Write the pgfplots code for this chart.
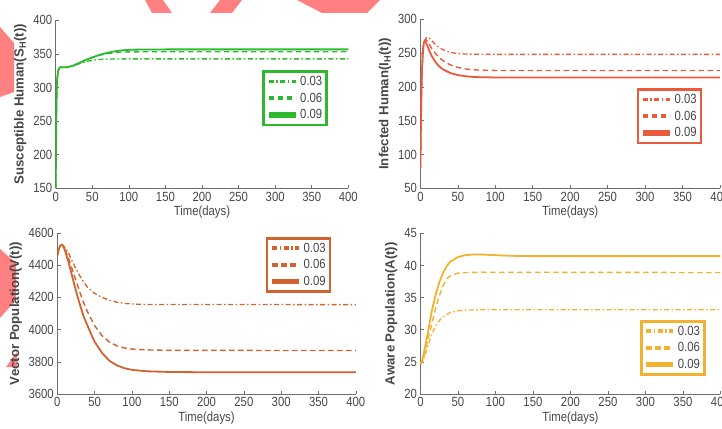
\documentclass[border=0pt]{standalone}
\usepackage{pgfplots}
\pgfplotsset{compat=1.18}
\usepackage{fontspec}
\setmainfont{Liberation Sans}[FakeStretch=0.85]
\newfontfamily\labfont{Liberation Sans}
\definecolor{cG}{RGB}{46,184,46}
\definecolor{cR}{RGB}{234,90,60}
\definecolor{cB}{RGB}{208,99,46}
\definecolor{cY}{RGB}{242,178,48}
\definecolor{pinkw}{RGB}{255,128,128}
\definecolor{axgray}{RGB}{110,110,110}
\definecolor{txt}{RGB}{70,70,70}
\pgfplotsset{
 myax/.style={
  scale only axis,
  axis lines=left,
  axis line style={-, draw=axgray, line width=0.8pt},
  tick align=inside,
  major tick length=3.5pt,
  tick style={draw=axgray, line width=0.6pt},
  xmin=0, xmax=400, xtick={0,50,...,400},
  tick label style={font=\fontsize{13.3}{14}\selectfont, text=txt},
  /pgf/number format/assume math mode=true,
  /pgf/number format/1000 sep={},
  xlabel={Time(days)},
  xlabel style={font=\fontsize{13.3}{14}\selectfont, text=txt, at={(axis description cs:0.5,0)}, anchor=center, yshift=-24pt},
  ylabel style={font=\labfont\bfseries\fontsize{13.2}{14}\selectfont, text=txt},
  legend cell align=left,
  legend image code/.code={\draw[##1, line width=1.7*\pgflinewidth] (0pt,0pt) -- (27pt,0pt);},
 },
 lg/.style={legend style={at={#1}, anchor=north west, fill=white, line width=2.5pt, font=\fontsize{13.3}{14}\selectfont, text=txt, inner sep=2.5pt, row sep=2pt}},
 s03/.style={line width=1.3pt, dash pattern=on 5pt off 2.5pt on 1.5pt off 2.5pt},
 s06/.style={line width=1.4pt, dash pattern=on 5.5pt off 3.5pt},
 s09/.style={line width=1.8pt},
}
\begin{document}
\begin{tikzpicture}
\path[use as bounding box] (0pt,0pt) rectangle (722pt,-428pt);
\clip (0pt,0pt) rectangle (722pt,-428pt);
% background watermark shapes
\fill[pinkw] (145pt,0pt) -- (163pt,0pt) -- (172pt,-13pt) -- (152pt,-13pt) -- cycle;
\fill[pinkw] (220pt,0pt) -- (242pt,0pt) -- (232pt,-13pt) -- (210pt,-13pt) -- cycle;
\fill[pinkw] (297pt,0pt) -- (380pt,0pt) -- (367pt,-13pt) -- (322pt,-13pt) -- cycle;
\fill[pinkw] (361pt,0pt) -- (378pt,0pt) -- (366pt,-13pt) -- (361pt,-13pt) -- cycle;
\fill[pinkw] (0pt,-27pt) -- (14pt,-43pt) -- (14pt,-92pt) -- (0pt,-97pt) -- cycle;
\fill[pinkw] (0pt,-249pt) -- (16pt,-263pt) -- (16pt,-300pt) -- (0pt,-318pt) -- cycle;
\fill[pinkw] (6pt,-367pt) -- (17pt,-352pt) -- (17pt,-367pt) -- cycle;

% Top-left: Susceptible human
\begin{axis}[myax, at={(55.7pt,-188.3pt)}, anchor=south west, width=292.6pt, height=168pt,
  ymin=150, ymax=400, ytick={150,200,...,400},
  ylabel={Susceptible Human(S\textsubscript{H}(t))},
  lg={(rel axis cs:0.706,0.702)}, legend style={draw=cG}]
\addplot[cG, s03] coordinates {(0,150)(0.5,225)(1,272)(1.5,298)(2,312)(3,322)(4,327)(5,329)(7,330.5)(10,330)(15,330)(20,331)(25,332.5)(30,334.5)(35,336.5)(40,338.3)(50,340.5)(60,341.7)(70,342.2)(80,342.5)(100,342.6)(400,342.6)};
\addlegendentry{0.03}
\addplot[cG, s06] coordinates {(0,150)(0.5,225)(1,272)(1.5,298)(2,312)(3,322)(4,327)(5,329)(7,330.5)(10,330)(15,330)(20,331)(25,333)(30,335.5)(35,338)(40,340.5)(50,344.5)(60,348)(70,350.3)(80,351.8)(90,352.6)(100,353)(120,353.2)(400,353.2)};
\addlegendentry{0.06}
\addplot[cG, s09] coordinates {(0,150)(0.5,225)(1,272)(1.5,298)(2,312)(3,322)(4,327)(5,329)(7,330.5)(10,330)(15,330)(20,331.5)(25,333)(30,335.5)(35,338)(40,340.5)(50,344.8)(60,348.5)(70,351.5)(80,353.7)(90,355.2)(100,356.1)(120,356.6)(150,356.7)(200,356.7)(300,356.7)(400,356.7)};
\addlegendentry{0.09}
\end{axis}

% Top-right: Infected human
\begin{axis}[myax, at={(420.4pt,-188.3pt)}, anchor=south west, width=299.5pt, height=169pt,
  ymin=50, ymax=300, ytick={50,100,...,300},
  ylabel={Infected Human(I\textsubscript{H}(t))},
  lg={(rel axis cs:0.722,0.592)}, legend style={draw=cR}]
\addplot[cR, s03] coordinates {(0,80)(0.5,125)(1,163)(1.5,193)(2,214)(3,240)(4,255)(5,264)(6,269)(8,273)(10,273.5)(12,272)(15,268.5)(20,263)(25,258.5)(30,255)(40,251)(50,249.3)(60,248.6)(80,248.2)(100,248.1)(400,248.1)};
\addlegendentry{0.03}
\addplot[cR, s06] coordinates {(0,80)(0.5,128)(1,168)(1.5,198)(2,220)(3,246)(4,260)(5,266)(6,269)(7,270)(8,269.5)(10,267)(12,263)(15,257)(20,249.5)(25,243.5)(30,239)(40,232.5)(50,228.8)(60,226.6)(70,225.4)(80,224.8)(100,224.3)(150,224.2)(400,224.2)};
\addlegendentry{0.06}
\addplot[cR, s09] coordinates {(0,80)(0.5,130)(1,170)(1.5,200)(2,222)(3,248)(4,262)(5,267)(6,268)(7,267)(8,264.5)(10,259)(12,253)(15,246)(20,237)(25,230.5)(30,226)(40,220.5)(50,217.5)(60,215.8)(70,214.8)(80,214.3)(100,214)(150,213.8)(400,213.8)};
\addlegendentry{0.09}
\end{axis}

% Bottom-left: Vector population
\begin{axis}[myax, at={(57.3pt,-394pt)}, anchor=south west, width=298.5pt, height=161pt,
  ymin=3600, ymax=4600, ytick={3600,3800,...,4600},
  ylabel={Vector Population(V(t))},
  lg={(rel axis cs:0.698,0.975)}, legend style={draw=cB}]
\addplot[cB, s03] coordinates {(0,4460)(2,4500)(4,4522)(6,4526)(8,4522)(10,4512)(15,4475)(20,4425)(25,4378)(30,4335)(35,4298)(40,4265)(50,4225)(60,4200)(70,4182)(80,4170)(90,4163)(100,4159)(120,4156)(400,4155)};
\addlegendentry{0.03}
\addplot[cB, s06] coordinates {(0,4460)(2,4500)(4,4522)(6,4526)(8,4520)(10,4502)(15,4445)(20,4375)(25,4305)(30,4235)(35,4170)(40,4115)(50,4025)(60,3962)(70,3922)(80,3899)(90,3886)(100,3879)(120,3874)(150,3871)(400,3870)};
\addlegendentry{0.06}
\addplot[cB, s09] coordinates {(0,4460)(2,4500)(4,4522)(6,4527)(8,4518)(10,4495)(15,4420)(20,4330)(25,4240)(30,4160)(35,4085)(40,4030)(45,3975)(50,3925)(60,3855)(70,3805)(80,3778)(90,3760)(100,3750)(120,3741)(150,3737)(200,3735)(400,3735)};
\addlegendentry{0.09}
\end{axis}

% Bottom-right: Aware population
\begin{axis}[myax, at={(420.4pt,-394pt)}, anchor=south west, width=300pt, height=160.7pt,
  ymin=20, ymax=45, ytick={20,25,...,45},
  ylabel={Aware Population(A(t))},
  lg={(rel axis cs:0.732,0.46)}, legend style={draw=cY}]
\addplot[cY, s03] coordinates {(0,25)(1,24.8)(2,24.9)(5,25.5)(10,27.5)(15,29.2)(20,30.5)(25,31.4)(30,32)(40,32.7)(50,32.95)(60,33.05)(80,33.1)(400,33.1)};
\addlegendentry{0.03}
\addplot[cY, s06] coordinates {(0,25)(1,24.8)(2,24.9)(4,25.6)(6,26.5)(8,27.5)(10,28.5)(12,29.4)(15,30.8)(20,33.2)(25,35.2)(30,36.8)(35,37.9)(40,38.4)(50,38.8)(60,38.9)(80,38.95)(400,38.9)};
\addlegendentry{0.06}
\addplot[cY, s09] coordinates {(0,25)(1,24.8)(2,25)(4,26)(6,27.2)(8,28.4)(10,29.6)(12,30.9)(15,32.8)(20,35.3)(25,37.3)(30,38.8)(35,39.9)(40,40.6)(50,41.3)(60,41.6)(70,41.7)(80,41.7)(90,41.65)(100,41.6)(120,41.5)(150,41.45)(400,41.45)};
\addlegendentry{0.09}
\end{axis}
\end{tikzpicture}
\end{document}
